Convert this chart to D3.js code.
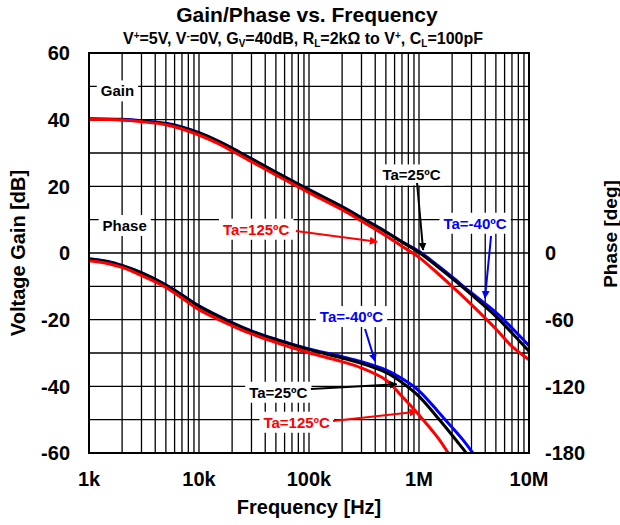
<!DOCTYPE html>
<html lang="en">
<head>
  <meta charset="UTF-8">
  <script src="https://d3js.org/d3.v7.min.js"></script>
  <title>Gain/Phase vs. Frequency</title>
  <style>
    body { margin: 0; background: white; }
    svg { font-family: "Liberation Sans", Arial, sans-serif; font-weight: bold; }
  </style>
</head>
<body>
<div id="chart"></div>
<script>
  // gain curves (dB)
  var freqGain = [1e3, 2e3, 3e3, 5e3, 7e3, 1e4, 1.5e4, 2e4, 3e4, 5e4, 7e4, 1e5, 2e5, 3e5, 5e5, 7e5, 1e6, 1.5e6, 2e6, 3e6, 5e6, 7e6, 1e7];
  var gainM40 = [40.3, 40.1, 39.7, 38.9, 37.8, 36.1, 33.6, 31.5, 28.3, 24.3, 21.7, 19.0, 13.9, 10.6, 6.4, 3.4, 0.5, -3.9, -7.2, -12.0, -17.8, -22.5, -27.8];
  var gain25 = [40.2, 40.0, 39.6, 38.8, 37.7, 36.0, 33.5, 31.4, 28.2, 24.2, 21.6, 18.9, 13.8, 10.5, 6.3, 3.3, 0.2, -4.3, -7.6, -12.5, -19.0, -24.0, -29.5];
  var gain125 = [40.1, 39.9, 39.4, 38.5, 37.2, 35.4, 32.8, 30.6, 27.4, 23.4, 20.8, 18.1, 13.0, 9.6, 5.2, 2.0, -1.3, -6.3, -10.0, -15.5, -22.8, -28.0, -32.0];

  // phase curves (deg)
  var freqPhase25 = [1e3, 1.5e3, 2e3, 3e3, 5e3, 7e3, 1e4, 2e4, 3e4, 5e4, 7e4, 1e5, 2e5, 3e5, 5e5, 7e5, 1e6, 1.5e6, 2e6, 2.5e6, 2.9e6];
  var phase25 = [-5.5, -8.0, -11.5, -18.0, -29.0, -38.0, -48.0, -63.0, -70.5, -78.0, -82.5, -87.0, -94.5, -99.3, -107.5, -116.5, -129.0, -149.0, -164.0, -176.0, -184];
  var freqPhaseM40 = [1e3, 1.5e3, 2e3, 3e3, 5e3, 7e3, 1e4, 2e4, 3e4, 5e4, 7e4, 1e5, 2e5, 3e5, 5e5, 7e5, 1e6, 1.5e6, 2e6, 2.5e6, 3.3e6];
  var phaseM40 = [-5.2, -7.7, -11.2, -17.7, -28.6, -37.6, -47.6, -62.6, -70.1, -77.6, -82.0, -86.4, -93.3, -97.8, -105.3, -113.0, -124.0, -143.0, -157.0, -168.0, -184];
  var freqPhase125 = [1e3, 1.5e3, 2e3, 3e3, 5e3, 7e3, 1e4, 2e4, 3e4, 5e4, 7e4, 1e5, 2e5, 3e5, 5e5, 7e5, 1e6, 1.5e6, 1.95e6];
  var phase125 = [-7.0, -9.6, -13.0, -20.3, -31.0, -40.6, -51.0, -65.5, -72.8, -80.5, -85.3, -89.8, -97.8, -103.5, -114.3, -129.0, -145.8, -166.8, -184];

  var xTicks = [1e3, 1e4, 1e5, 1e6, 1e7];
  var xTickLabels = ["1k", "10k", "100k", "1M", "10M"];
  var gainTicks = [60, 40, 20, 0, -20, -40, -60];
  var phaseTicks = [0, -60, -120, -180];

  var W = 620, H = 525;
  var margin = { top: 53, right: 91, bottom: 72, left: 89 },
    width = W - margin.left - margin.right,
    height = H - margin.top - margin.bottom;

  var svg = d3.select("#chart").append("svg")
    .attr("width", W)
    .attr("height", H);

  var x = d3.scaleLog().domain([1e3, 1e7]).range([0, width]);
  var y = d3.scaleLinear().domain([-60, 60]).range([height, 0]);
  var yPhase = d3.scaleLinear().domain([-180, 180]).range([height, 0]);

  var g = svg.append("g")
    .attr("transform", "translate(" + margin.left + "," + margin.top + ")");

  svg.append("defs").append("clipPath").attr("id", "plotclip")
    .append("rect").attr("width", width).attr("height", height);

  // grid: vertical lines at every 1..9 of each decade
  var vGrid = [];
  for (var dec = 1e3; dec < 1e7; dec *= 10) {
    for (var k = 2; k <= 9; k++) vGrid.push(dec * k);
  }
  vGrid = vGrid.concat(xTicks);
  g.append("g").selectAll("line").data(vGrid).enter().append("line")
    .attr("x1", d => x(d)).attr("x2", d => x(d))
    .attr("y1", 0).attr("y2", height)
    .attr("stroke", "#000").attr("stroke-width", 1.3);

  g.append("g").selectAll("line").data(d3.range(-60, 61, 10)).enter().append("line")
    .attr("x1", 0).attr("x2", width)
    .attr("y1", d => y(d)).attr("y2", d => y(d))
    .attr("stroke", "#000").attr("stroke-width", 1.3);

  // curves
  var lineGain = function (fs) {
    return d3.line().x((d, i) => x(fs[i])).y(d => y(d)).curve(d3.curveCatmullRom.alpha(0.5));
  };
  var linePhase = function (fs) {
    return d3.line().x((d, i) => x(fs[i])).y(d => yPhase(d)).curve(d3.curveCatmullRom.alpha(0.5));
  };

  var curves = g.append("g").attr("clip-path", "url(#plotclip)");
  var series = [
    { fg: freqGain, gv: gainM40, fp: freqPhaseM40, pv: phaseM40, color: "#0000ff" },
    { fg: freqGain, gv: gain25, fp: freqPhase25, pv: phase25, color: "#000000" },
    { fg: freqGain, gv: gain125, fp: freqPhase125, pv: phase125, color: "#ff0000" }
  ];
  series.forEach(function (s) {
    curves.append("path").datum(s.gv)
      .attr("d", lineGain(s.fg))
      .attr("fill", "none").attr("stroke", s.color).attr("stroke-width", 3);
    curves.append("path").datum(s.pv)
      .attr("d", linePhase(s.fp))
      .attr("fill", "none").attr("stroke", s.color).attr("stroke-width", 3);
  });

  // frame
  g.append("rect").attr("width", width).attr("height", height)
    .attr("fill", "none").attr("stroke", "#000").attr("stroke-width", 2);

  // axes labels
  g.append("g").selectAll("text").data(gainTicks).enter().append("text")
    .attr("x", -19).attr("y", d => y(d)).attr("dy", "0.36em")
    .attr("text-anchor", "end").attr("font-size", 20).text(d => d);

  g.append("g").selectAll("text").data(phaseTicks).enter().append("text")
    .attr("x", width + 16).attr("y", d => yPhase(d)).attr("dy", "0.36em")
    .attr("text-anchor", "start").attr("font-size", 20).text(d => d);

  g.append("g").selectAll("text").data(xTicks).enter().append("text")
    .attr("x", d => x(d)).attr("y", height + 33)
    .attr("text-anchor", "middle").attr("font-size", 20)
    .text((d, i) => xTickLabels[i]);

  svg.append("text").attr("x", margin.left + width / 2).attr("y", 514)
    .attr("text-anchor", "middle").attr("font-size", 20).text("Frequency [Hz]");

  svg.append("text").attr("transform", "translate(25," + (margin.top + height / 2) + ") rotate(-90)")
    .attr("text-anchor", "middle").attr("font-size", 20).text("Voltage Gain [dB]");

  svg.append("text").attr("transform", "translate(617,234) rotate(-90)")
    .attr("text-anchor", "middle").attr("font-size", 19).text("Phase [deg]");

  // title
  svg.append("text").attr("x", 307).attr("y", 22)
    .attr("text-anchor", "middle").attr("font-size", 21).text("Gain/Phase vs. Frequency");

  var sub = svg.append("text").attr("x", 303).attr("y", 44)
    .attr("text-anchor", "middle").attr("font-size", 16);
  var subParts = [["V", ""], ["+", "sup"], ["=5V, V", ""], ["-", "sup"], ["=0V, G", ""], ["V", "sub"],
    ["=40dB, R", ""], ["L", "sub"], ["=2kΩ to V", ""], ["+", "sup"], [", C", ""], ["L", "sub"], ["=100pF", ""]];
  subParts.forEach(function (p) {
    var t = sub.append("tspan").text(p[0]);
    if (p[1] === "sup") t.attr("font-size", 10).attr("baseline-shift", "5");
    if (p[1] === "sub") t.attr("font-size", 10).attr("baseline-shift", "-3");
  });

  // annotations: label at (freq, gain-axis value), optional arrow [f1, v1, f2, v2]
  var labels = [
    { t: "Gain", f: 1.28e3, v: 48.6, anchor: "start", c: "#000" },
    { t: "Phase", f: 1.33e3, v: 8.2, anchor: "start", c: "#000" },
    { t: "Ta=125ºC", f: 1.65e4, v: 7.1, anchor: "start", c: "#ff0000", a: [7.6e4, 6.6, 4.15e5, 3.4] },
    { t: "Ta=25ºC", f: 8.55e5, v: 23.4, anchor: "middle", c: "#000", a: [9.6e5, 21.0, 1.09e6, 0.9] },
    { t: "Ta=-40ºC", f: 3.23e6, v: 8.9, anchor: "middle", c: "#0000ff", a: [4.52e6, 5.1, 3.98e6, -13.5] },
    { t: "Ta=-40ºC", f: 2.43e5, v: -19.1, anchor: "middle", c: "#0000ff", a: [3.23e5, -22.8, 3.98e5, -32.4] },
    { t: "Ta=25ºC", f: 5.26e4, v: -41.8, anchor: "middle", c: "#000", a: [1.04e5, -40.8, 6.27e5, -39.4] },
    { t: "Ta=125ºC", f: 7.73e4, v: -50.8, anchor: "middle", c: "#ff0000", a: [1.65e5, -50.4, 9.53e5, -47.6] }
  ];

  var defs = svg.select("defs");
  ["#000", "#ff0000", "#0000ff"].forEach(function (c, i) {
    defs.append("marker").attr("id", "arr" + i)
      .attr("viewBox", "0 0 10 10").attr("refX", 9).attr("refY", 5)
      .attr("markerWidth", 4).attr("markerHeight", 4).attr("orient", "auto")
      .attr("markerUnits", "strokeWidth")
      .append("path").attr("d", "M0,0L10,5L0,10z").attr("fill", c);
  });
  var markerFor = { "#000": "arr0", "#ff0000": "arr1", "#0000ff": "arr2" };

  var ann = g.append("g");
  labels.forEach(function (l) {
    var txt = ann.append("text")
      .attr("x", x(l.f)).attr("y", y(l.v)).attr("dy", "0.36em")
      .attr("text-anchor", l.anchor).attr("font-size", 15)
      .attr("fill", l.c).text(l.t);
    var bb = txt.node().getBBox();
    ann.insert("rect", function () { return txt.node(); })
      .attr("x", bb.x - 4).attr("y", bb.y - 2)
      .attr("width", bb.width + 8).attr("height", bb.height + 4)
      .attr("fill", "#fff");
    if (l.a) {
      ann.append("line")
        .attr("x1", x(l.a[0])).attr("y1", y(l.a[1]))
        .attr("x2", x(l.a[2])).attr("y2", y(l.a[3]))
        .attr("stroke", l.c).attr("stroke-width", 2)
        .attr("marker-end", "url(#" + markerFor[l.c] + ")");
    }
  });
</script>
</body>
</html>
